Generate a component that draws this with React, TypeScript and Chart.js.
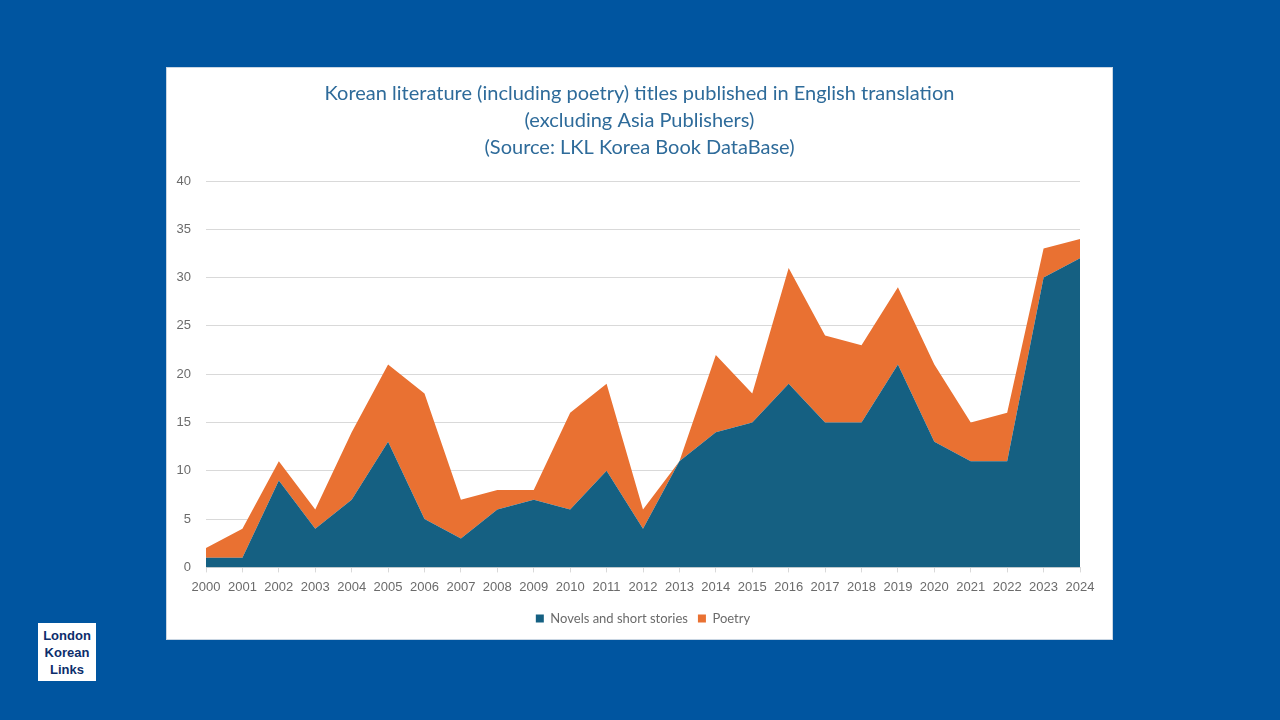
import React, { useEffect, useRef } from "react";
import { Chart, registerables } from "chart.js";

Chart.register(...registerables);

const years = [
  "2000", "2001", "2002", "2003", "2004", "2005", "2006", "2007", "2008", "2009",
  "2010", "2011", "2012", "2013", "2014", "2015", "2016", "2017", "2018", "2019",
  "2020", "2021", "2022", "2023", "2024",
];
const novels = [1, 1, 9, 4, 7, 13, 5, 3, 6, 7, 6, 10, 4, 11, 14, 15, 19, 15, 15, 21, 13, 11, 11, 30, 32];
const poetry = [1, 3, 2, 2, 7, 8, 13, 4, 2, 1, 10, 9, 2, 0, 8, 3, 12, 9, 8, 8, 8, 4, 5, 3, 2];
const titleLines = [
  "Korean literature (including poetry) titles published in English translation",
  "(excluding Asia Publishers)",
  "(Source: LKL Korea Book DataBase)",
];

const BLUE = "#156082";
const ORANGE = "#E97132";

// Centre the title over the whole card and the legend under the plot area.
const recentre = {
  id: "recentre",
  afterLayout(chart: any) {
    const area = chart.chartArea;
    const title = chart.titleBlock;
    if (title) {
      const shift = chart.width / 2 - (title.left + title.right) / 2;
      title.left += shift;
      title.right += shift;
    }
    const legend = chart.legend;
    if (legend) {
      const shift = (area.left + area.right) / 2 - (legend.left + legend.right) / 2;
      legend.left += shift;
      legend.right += shift;
    }
  },
};

function AreaChart() {
  const ref = useRef<HTMLCanvasElement | null>(null);
  useEffect(() => {
    if (!ref.current) return;
    const chart = new Chart(ref.current, {
      type: "line",
      data: {
        labels: years,
        datasets: [
          {
            label: "Novels and short stories",
            data: novels,
            backgroundColor: BLUE,
            borderColor: BLUE,
            borderWidth: 0,
            pointRadius: 0,
            fill: "origin",
            tension: 0,
          },
          {
            label: "Poetry",
            data: poetry,
            backgroundColor: ORANGE,
            borderColor: ORANGE,
            borderWidth: 0,
            pointRadius: 0,
            fill: "-1",
            tension: 0,
          },
        ],
      },
      plugins: [recentre],
      options: {
        animation: false,
        responsive: false,
        maintainAspectRatio: false,
        layout: { padding: { left: 0, right: 32, top: 0, bottom: 4 } },
        plugins: {
          title: {
            display: true,
            text: titleLines,
            color: "#2e6b9a",
            font: { family: "Lato", size: 20, weight: "normal", lineHeight: 1.35 },
            padding: { top: 12, bottom: 20 },
          },
          legend: {
            position: "bottom",
            labels: {
              boxWidth: 8,
              boxHeight: 8,
              color: "#6b6b6b",
              font: { family: "Lato", size: 13 },
              padding: 10,
            },
          },
          tooltip: { enabled: false },
          filler: { propagate: false },
        },
        scales: {
          x: {
            offset: false,
            grid: {
              display: true,
              drawOnChartArea: false,
              drawTicks: true,
              tickLength: 5,
              color: "#d9d9d9",
            },
            border: { color: "#d9d9d9" },
            ticks: {
              color: "#6b6b6b",
              font: { family: "Liberation Sans", size: 13 },
              maxRotation: 0,
              autoSkip: false,
              padding: 7,
            },
          },
          y: {
            stacked: true,
            min: 0,
            max: 40,
            ticks: {
              stepSize: 5,
              color: "#6b6b6b",
              font: { family: "Liberation Sans", size: 13 },
              padding: 15,
            },
            grid: { color: "#d9d9d9", drawTicks: false, lineWidth: 1 },
            border: { display: false },
            afterFit: (scale: any) => {
              scale.width = 39;
            },
          },
        },
      },
    });
    return () => chart.destroy();
  }, []);
  return <canvas ref={ref} width={945} height={571} style={{ display: "block" }} />;
}

export default function App() {
  return (
    <div
      style={{
        position: "fixed",
        inset: 0,
        background: "#0055a0",
        fontFamily: "Liberation Sans, Arial, sans-serif",
      }}
    >
      <div
        style={{
          position: "absolute",
          left: 166,
          top: 67,
          width: 945,
          height: 571,
          background: "#ffffff",
          border: "1px solid #c9d6e3",
        }}
      >
        <AreaChart />
      </div>
      <div
        style={{
          position: "absolute",
          left: 38,
          top: 623,
          width: 58,
          height: 58,
          background: "#ffffff",
          color: "#0c2d6b",
          fontWeight: "bold",
          fontSize: 13,
          lineHeight: "17px",
          textAlign: "center",
          display: "flex",
          flexDirection: "column",
          justifyContent: "center",
        }}
      >
        <div>London</div>
        <div>Korean</div>
        <div>Links</div>
      </div>
    </div>
  );
}
